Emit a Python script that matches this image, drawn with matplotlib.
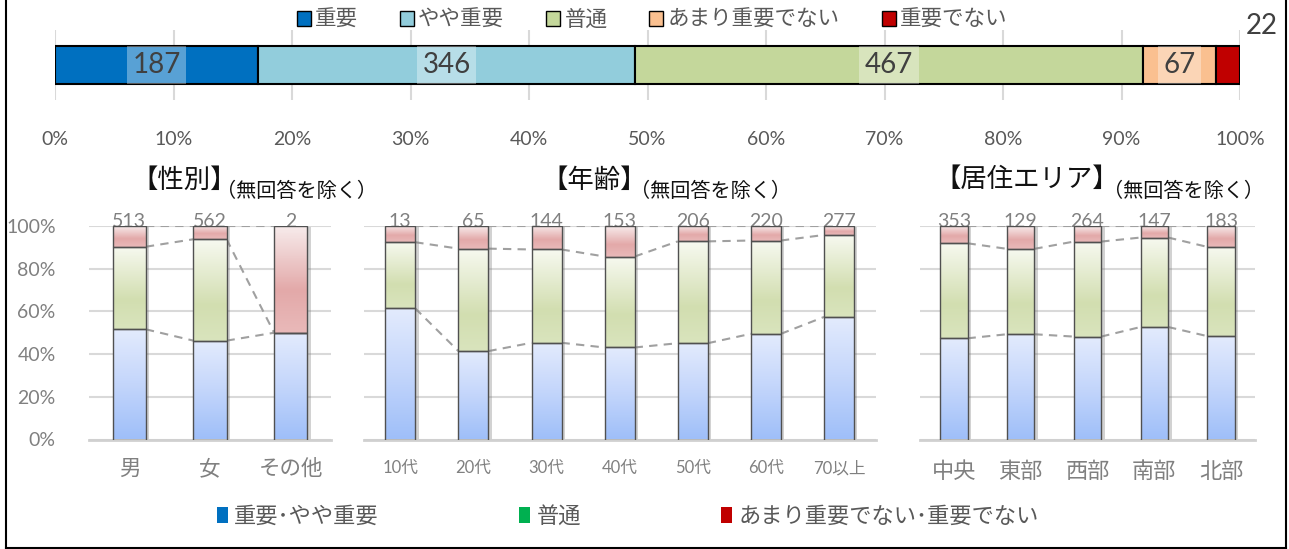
import matplotlib
matplotlib.use('Agg')
import matplotlib.pyplot as plt
import numpy as np
from matplotlib.colors import LinearSegmentedColormap
from matplotlib.patches import Patch
from matplotlib.lines import Line2D
import matplotlib.patheffects as pe

plt.rcParams['font.family'] = ['Lato', 'Noto Sans CJK JP', 'DejaVu Sans']

# overall answers (counts)
levels = ['重要', 'やや重要', '普通', 'あまり重要でない', '重要でない']
counts = [187, 346, 467, 67, 22]
level_colors = ['#0070c0', '#92cddc', '#c4d79b', '#fac090', '#c00000']

# by group: % of 重要・やや重要 (high) and 普通 (mid); rest is low
sex_cats = ['男', '女', 'その他']
sex_n = [513, 562, 2]
sex_high = [51.6, 46.3, 50.0]
sex_mid = [38.7, 47.5, 0.0]

age_cats = ['10代', '20代', '30代', '40代', '50代', '60代', '70以上']
age_n = [13, 65, 144, 153, 206, 220, 277]
age_high = [61.4, 41.4, 45.3, 43.1, 45.1, 49.5, 57.4]
age_mid = [31.0, 48.0, 43.7, 42.6, 47.7, 43.7, 38.4]

area_cats = ['中央', '東部', '西部', '南部', '北部']
area_n = [353, 129, 264, 147, 183]
area_high = [47.4, 49.3, 48.2, 52.7, 48.4]
area_mid = [44.5, 40.0, 44.5, 41.9, 41.8]

W, H = 1289, 549
fig = plt.figure(figsize=(W / 100, H / 100), dpi=100)


def fx(x):
    return x / W


def fy(y):
    return 1 - y / H


# ---- top 100% bar ----
ax0 = fig.add_axes([fx(55), fy(100), fx(1240) - fx(55), fy(30) - fy(100)])
total = sum(counts)
shares = [c / total * 100 for c in counts]
left = 0
for i, (s, c) in enumerate(zip(shares, counts)):
    ax0.barh(0, s, left=left, height=0.54, color=level_colors[i],
             edgecolor='black', linewidth=1.5, zorder=3)
    if i < len(counts) - 1:
        ax0.text(left + s / 2, 0, str(c), ha='center', va='center',
                 fontsize=20, color='#404040', zorder=4,
                 bbox=dict(boxstyle='square,pad=0.2', fc='white', ec='none', alpha=0.35))
    else:
        ax0.annotate(str(c), xy=(left + s, 0), xytext=(22, 39),
                     textcoords='offset pixels', ha='center', va='center',
                     fontsize=20, color='#404040', annotation_clip=False)
    left += s
ax0.set_xlim(0, 100)
ax0.set_ylim(-0.5, 0.5)
ax0.set_xticks(np.arange(0, 101, 10))
ax0.set_xticklabels([f'{v}%' for v in range(0, 101, 10)])
ax0.tick_params(axis='x', length=0, pad=22, labelsize=14, labelcolor='#595959')
ax0.set_yticks([])
ax0.xaxis.grid(True, color='#d9d9d9', linewidth=1.5, zorder=0)
ax0.set_axisbelow(True)
for sp in ax0.spines.values():
    sp.set_visible(False)

fig.legend([Patch(facecolor=c, edgecolor='black', linewidth=1) for c in level_colors],
           levels, loc='center', bbox_to_anchor=(fx(652), fy(20)), ncol=5,
           frameon=False, fontsize=15.5, handlelength=0.65, handleheight=0.65,
           handletextpad=0.2, columnspacing=1.95, labelcolor='#595959')

# ---- group panels ----
cm_blue = LinearSegmentedColormap.from_list('b', ['#e3ebfd', '#c4d6fb', '#9fbff9'])
cm_green = LinearSegmentedColormap.from_list('g', [(0, '#f7f9f0'), (0.65, '#d2deb0'), (1, '#d9e4bd')])
cm_red = LinearSegmentedColormap.from_list('r', [(0, '#f7ebeb'), (0.6, '#e3a9a9'), (1, '#e9b9b9')])
grad = np.linspace(0, 1, 100).reshape(-1, 1)


def panel(rect, cats, n, high, mid, ylabels, cat_size, cat_pad):
    ax = fig.add_axes(rect)
    x = np.arange(len(cats))
    w = 0.41
    high = np.array(high) / 100
    mid = np.array(mid) / 100
    low = 1 - high - mid
    parts = [(high, np.zeros(len(x)), cm_blue), (mid, high, cm_green), (low, high + mid, cm_red)]
    for vals, bot, cm in parts:
        bars = ax.bar(x, vals, w, bottom=bot, color='white', linewidth=0, zorder=2,
                      path_effects=[pe.SimplePatchShadow(offset=(2.5, -1), shadow_rgbFace='#808080', alpha=0.35),
                                    pe.Normal()])
        for b in bars:
            if b.get_height() <= 0:
                continue
            im = ax.imshow(grad, cmap=cm, aspect='auto', zorder=2.5, origin='upper',
                           extent=(b.get_x(), b.get_x() + b.get_width(), b.get_y(), b.get_y() + b.get_height()))
            im.set_clip_path(b)
        ax.bar(x, vals, w, bottom=bot, fill=False, edgecolor='#505050', linewidth=1, zorder=3)
    # series lines
    for top in [high, high + mid, high + mid + low]:
        for i in range(len(x) - 1):
            ax.plot([x[i] + w / 2, x[i + 1] - w / 2], [top[i], top[i + 1]],
                    ls=(0, (4, 3)), color='#a0a0a0', lw=1.5, zorder=1.8)
    for xi, c in zip(x, n):
        ax.text(xi, 0.995, str(c), ha='center', va='baseline', fontsize=14,
                color='#808080', zorder=1.5)
    ax.set_xlim(-0.5, len(x) - 0.5)
    ax.set_ylim(0, 1)
    ax.set_aspect('auto')
    ax.set_yticks(np.arange(0, 1.01, 0.2))
    if ylabels:
        ax.set_yticklabels([f'{v}%' for v in range(0, 101, 20)])
    else:
        ax.set_yticklabels([])
    ax.tick_params(axis='y', length=0, pad=24, labelsize=14, labelcolor='#808080')
    ax.set_xticks(x)
    ax.set_xticklabels(cats)
    ax.tick_params(axis='x', length=0, pad=cat_pad, labelsize=cat_size, labelcolor='#808080')
    ax.yaxis.grid(True, color='#d9d9d9', linewidth=1.5, zorder=0)
    ax.set_axisbelow(True)
    for sp in ['top', 'left', 'right']:
        ax.spines[sp].set_visible(False)
    ax.spines['bottom'].set_color('#d0d0d0')
    ax.spines['bottom'].set_linewidth(2)
    return ax


bottom, height = fy(439.5), fy(226) - fy(439.5)
panel([fx(89), bottom, fx(331) - fx(89), height], sex_cats, sex_n, sex_high, sex_mid, True, 15.5, 14)
panel([fx(363.7), bottom, fx(875.6) - fx(363.7), height], age_cats, age_n, age_high, age_mid, False, 12, 15)
panel([fx(920.4), bottom, fx(1254.6) - fx(920.4), height], area_cats, area_n, area_high, area_mid, False, 16, 16)

# titles
titles = [('【性別】', 184, 180, 216, 190), ('【年齢】', 594, 180, 630, 190), ('【居住エリア】', 1027, 179, 1103, 190)]
for t, tx, ty, sx, sy in titles:
    fig.text(fx(tx), fy(ty), t, ha='center', va='center', fontsize=19, color='#111111')
    fig.text(fx(sx), fy(sy), '（無回答を除く）', ha='left', va='center', fontsize=14.5, color='#111111')

# bottom legend
fig.legend([Patch(facecolor=c, edgecolor='none') for c in ['#0070c0', '#00b050', '#c00000']],
           ['重要･やや重要', '普通', 'あまり重要でない･重要でない'], loc='center',
           bbox_to_anchor=(fx(628), fy(516)), ncol=3, frameon=False, fontsize=16,
           handlelength=0.5, handleheight=0.75, handletextpad=0.3, columnspacing=6.3,
           labelcolor='#595959')

# outer frame
for xs, ys in [([fx(5.5), fx(5.5)], [0, 1]), ([fx(1285.5), fx(1285.5)], [0, 1]),
               ([fx(5.5), fx(1285.5)], [fy(547.5), fy(547.5)])]:
    fig.add_artist(Line2D(xs, ys, color='black', linewidth=1.5))

fig.savefig('out.png', dpi=100)
